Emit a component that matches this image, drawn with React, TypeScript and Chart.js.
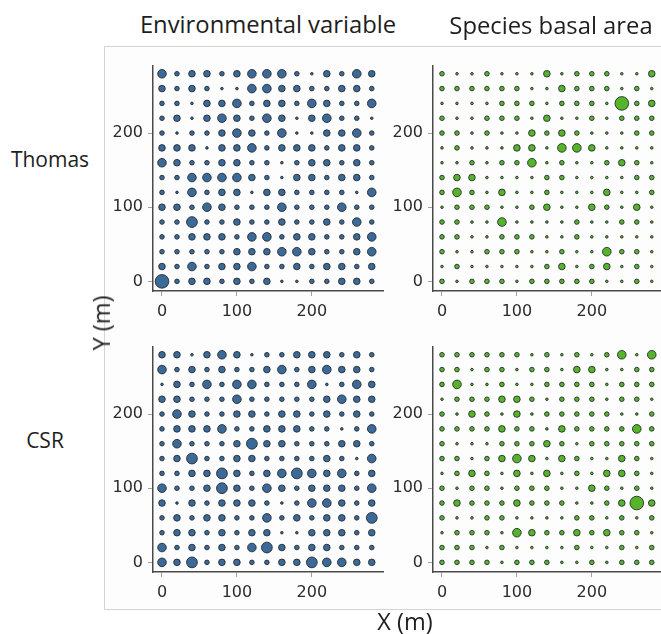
import React, { useEffect, useRef } from "react";
import { Chart, registerables } from "chart.js";

Chart.register(...registerables);

// Grid positions (m) along each axis
const gridCoords = [0, 20, 40, 60, 80, 100, 120, 140, 160, 180, 200, 220, 240, 260, 280];
const tickValues = [0, 100, 200];

// Relative magnitude classes per cell; rows listed from Y = 280 down to Y = 0
const envThomas = [
  [4, 2, 3, 3, 2, 3, 4, 4, 4, 2, 1, 3, 2, 4, 3],
  [3, 2, 3, 2, 1, 1, 4, 4, 3, 3, 2, 2, 3, 3, 2],
  [2, 2, 1, 3, 3, 4, 2, 3, 3, 2, 4, 3, 2, 2, 4],
  [2, 3, 1, 3, 4, 3, 2, 4, 3, 1, 3, 4, 2, 2, 1],
  [2, 1, 2, 2, 3, 4, 3, 2, 4, 1, 1, 3, 3, 4, 2],
  [3, 3, 3, 1, 3, 3, 4, 2, 3, 3, 3, 2, 3, 3, 2],
  [4, 3, 2, 2, 3, 3, 2, 2, 1, 2, 3, 3, 2, 3, 2],
  [2, 2, 4, 4, 4, 4, 3, 2, 1, 3, 3, 2, 3, 3, 2],
  [2, 1, 4, 2, 3, 3, 1, 3, 3, 2, 2, 2, 2, 1, 4],
  [3, 3, 2, 4, 3, 2, 2, 2, 4, 2, 2, 2, 4, 2, 2],
  [2, 2, 5, 2, 2, 3, 2, 2, 3, 2, 2, 3, 2, 4, 2],
  [2, 2, 3, 3, 3, 2, 4, 4, 2, 3, 3, 2, 2, 3, 4],
  [2, 2, 2, 2, 2, 3, 3, 3, 4, 4, 3, 2, 2, 3, 4],
  [3, 2, 4, 2, 3, 3, 4, 2, 2, 3, 2, 3, 3, 2, 3],
  [6, 2, 3, 3, 2, 3, 2, 3, 1, 1, 2, 2, 3, 3, 2],
];

const basalThomas = [
  [2, 1, 1, 2, 1, 1, 1, 3, 1, 2, 2, 2, 1, 1, 3],
  [2, 2, 2, 2, 2, 2, 1, 1, 3, 2, 2, 2, 1, 2, 1],
  [1, 1, 1, 1, 2, 2, 2, 1, 2, 2, 2, 1, 6, 2, 3],
  [2, 1, 1, 2, 2, 2, 1, 3, 1, 1, 2, 1, 2, 2, 2],
  [2, 2, 1, 2, 1, 1, 3, 2, 3, 2, 1, 1, 1, 2, 2],
  [1, 2, 1, 1, 1, 3, 3, 1, 4, 4, 3, 1, 1, 1, 1],
  [1, 1, 2, 1, 2, 2, 4, 1, 2, 1, 1, 2, 3, 2, 1],
  [2, 3, 3, 1, 1, 1, 1, 2, 2, 1, 1, 1, 1, 2, 2],
  [2, 4, 2, 1, 3, 1, 1, 2, 1, 1, 1, 3, 1, 1, 2],
  [1, 2, 2, 2, 1, 1, 2, 3, 1, 1, 3, 2, 1, 3, 1],
  [2, 2, 1, 1, 4, 1, 1, 1, 1, 2, 1, 1, 2, 2, 1],
  [2, 2, 1, 1, 2, 2, 2, 1, 1, 2, 1, 1, 1, 1, 1],
  [2, 1, 1, 2, 2, 2, 1, 1, 2, 1, 1, 4, 2, 2, 1],
  [1, 2, 1, 1, 1, 1, 1, 2, 3, 1, 2, 3, 1, 2, 1],
  [2, 1, 2, 2, 2, 1, 2, 2, 2, 2, 2, 1, 1, 2, 1],
];

const envCsr = [
  [3, 3, 1, 3, 4, 3, 1, 2, 2, 3, 3, 3, 2, 3, 2],
  [4, 2, 3, 2, 3, 2, 2, 3, 4, 2, 3, 4, 3, 3, 2],
  [1, 3, 2, 4, 2, 4, 4, 2, 2, 2, 4, 1, 2, 4, 3],
  [3, 3, 2, 2, 2, 4, 2, 2, 2, 2, 2, 3, 4, 3, 3],
  [2, 4, 3, 2, 2, 3, 3, 2, 3, 3, 2, 3, 2, 3, 2],
  [2, 3, 3, 3, 4, 2, 2, 3, 3, 3, 2, 2, 1, 2, 4],
  [2, 4, 2, 2, 2, 3, 5, 3, 3, 2, 2, 2, 3, 3, 2],
  [2, 3, 5, 2, 2, 3, 3, 2, 2, 2, 2, 3, 2, 1, 4],
  [2, 2, 3, 3, 5, 3, 2, 3, 4, 5, 4, 3, 4, 2, 3],
  [4, 2, 2, 3, 5, 3, 2, 4, 3, 2, 3, 3, 3, 2, 4],
  [3, 1, 3, 2, 3, 3, 3, 2, 1, 2, 4, 4, 3, 2, 3],
  [2, 3, 2, 3, 3, 2, 2, 4, 2, 3, 2, 3, 3, 2, 5],
  [2, 3, 3, 2, 3, 2, 3, 3, 1, 1, 3, 3, 3, 2, 3],
  [4, 2, 3, 2, 3, 2, 4, 5, 3, 2, 3, 3, 2, 2, 2],
  [4, 3, 5, 2, 3, 3, 2, 2, 3, 3, 5, 4, 4, 3, 3],
];

const basalCsr = [
  [2, 2, 2, 2, 2, 2, 1, 2, 1, 2, 1, 2, 4, 1, 4],
  [2, 2, 1, 2, 2, 1, 2, 2, 1, 3, 3, 1, 1, 2, 2],
  [2, 4, 1, 1, 2, 1, 1, 2, 2, 2, 2, 1, 2, 2, 2],
  [1, 2, 2, 2, 3, 3, 2, 1, 2, 2, 2, 1, 2, 2, 1],
  [2, 1, 3, 2, 1, 3, 1, 2, 2, 2, 2, 2, 1, 1, 2],
  [2, 2, 2, 2, 3, 2, 2, 1, 3, 2, 2, 2, 2, 4, 2],
  [2, 1, 1, 1, 2, 2, 2, 3, 2, 1, 2, 2, 2, 2, 2],
  [2, 2, 1, 2, 3, 4, 3, 1, 3, 2, 1, 1, 3, 2, 1],
  [1, 2, 3, 2, 1, 3, 1, 3, 1, 2, 1, 3, 3, 2, 1],
  [2, 1, 2, 2, 1, 2, 2, 2, 1, 1, 3, 2, 1, 2, 1],
  [2, 3, 2, 2, 2, 3, 2, 2, 2, 1, 1, 2, 3, 6, 3],
  [2, 1, 1, 2, 2, 1, 1, 1, 1, 2, 2, 1, 2, 1, 2],
  [1, 2, 2, 2, 1, 4, 3, 2, 2, 3, 2, 3, 2, 2, 1],
  [2, 2, 2, 1, 2, 1, 1, 1, 1, 2, 1, 1, 2, 1, 2],
  [2, 2, 2, 2, 1, 2, 2, 2, 1, 1, 2, 1, 2, 2, 2],
];

// Bubble radius (px) for each magnitude class
const radiusByClass = [0, 1.3, 2.3, 3.3, 4.3, 5.4, 6.8];

const BLUE = "#3b6998";
const GREEN = "#56b428";
const OUTLINE = "#262b30";
const AXIS = "#4a4a4a";
const TEXT = "#2b2b2b";

// Plot-area geometry shared by all four panels
const AREA_W = 230;
const AREA_H = 228;
const Y_AXIS_W = 55;
const X_AXIS_H = 40;
const PAD_TOP = 12;
const PAD_RIGHT = 10;

function toPoints(grid: number[][]) {
  const pts: { x: number; y: number; r: number }[] = [];
  grid.forEach((row, ri) => {
    row.forEach((v, ci) => {
      pts.push({ x: gridCoords[ci], y: gridCoords[14 - ri], r: radiusByClass[v] });
    });
  });
  return pts;
}

function Panel({ areaLeft, areaTop, grid, fill }: { areaLeft: number; areaTop: number; grid: number[][]; fill: string }) {
  const ref = useRef<HTMLCanvasElement | null>(null);
  useEffect(() => {
    if (!ref.current) return;
    const tickFont = { family: "'DejaVu Sans', Verdana, sans-serif", size: 16 };
    const setTicks = (scale: any) => {
      scale.ticks = tickValues.map((v) => ({ value: v }));
    };
    const chart = new Chart(ref.current, {
      type: "bubble",
      data: {
        datasets: [
          {
            data: toPoints(grid),
            backgroundColor: fill,
            borderColor: OUTLINE,
            borderWidth: 0.9,
            clip: false,
          } as any,
        ],
      },
      options: {
        animation: false,
        responsive: false,
        events: [],
        layout: { padding: { top: PAD_TOP, right: PAD_RIGHT, left: 0, bottom: 0 } },
        plugins: { legend: { display: false }, tooltip: { enabled: false } },
        scales: {
          x: {
            type: "linear",
            min: -12,
            max: 295,
            afterBuildTicks: setTicks,
            afterFit: (s: any) => {
              s.height = X_AXIS_H;
            },
            grid: { drawOnChartArea: false, drawTicks: true, tickLength: 5, color: "#a0a0a0" },
            border: { display: true, color: AXIS, width: 1.5 },
            ticks: { font: tickFont, color: TEXT, padding: 6, maxRotation: 0 },
          },
          y: {
            type: "linear",
            min: -13,
            max: 291,
            afterBuildTicks: setTicks,
            afterFit: (s: any) => {
              s.width = Y_AXIS_W;
            },
            grid: { drawOnChartArea: false, drawTicks: true, tickLength: 5, color: "#a0a0a0" },
            border: { display: true, color: AXIS, width: 1.5 },
            ticks: { font: tickFont, color: TEXT, padding: 5 },
          },
        },
      },
    });
    return () => chart.destroy();
  }, [grid, fill]);

  const w = Y_AXIS_W + AREA_W + PAD_RIGHT;
  const h = PAD_TOP + AREA_H + X_AXIS_H;
  return (
    <canvas
      ref={ref}
      width={w}
      height={h}
      style={{ position: "absolute", left: areaLeft - Y_AXIS_W, top: areaTop - PAD_TOP, width: w, height: h }}
    />
  );
}

const labelFont = "'Open Sans', 'DejaVu Sans', sans-serif";

export default function App() {
  const text = (s: string, left: number, top: number, size: number, extra: React.CSSProperties = {}) => (
    <div
      style={{
        position: "absolute",
        left,
        top,
        transform: "translate(-50%, -50%)",
        whiteSpace: "nowrap",
        fontFamily: labelFont,
        fontSize: size,
        color: "#1e1e1e",
        lineHeight: 1.2,
        ...extra,
      }}
    >
      {s}
    </div>
  );
  return (
    <div
      style={{
        position: "absolute",
        left: 0,
        top: 0,
        width: 661,
        height: 634,
        overflow: "hidden",
        background: "#ffffff",
      }}
    >
      <div
        style={{
          position: "absolute",
          left: 104,
          top: 46,
          width: 600,
          height: 564,
          border: "1px solid #d4d4d4",
          background: "#fdfdfd",
          boxSizing: "border-box",
        }}
      />
      <Panel areaLeft={153} areaTop={63} grid={envThomas} fill={BLUE} />
      <Panel areaLeft={433} areaTop={63} grid={basalThomas} fill={GREEN} />
      <Panel areaLeft={153} areaTop={344} grid={envCsr} fill={BLUE} />
      <Panel areaLeft={433} areaTop={344} grid={basalCsr} fill={GREEN} />
      {text("Environmental variable", 268, 24, 23.8)}
      {text("Species basal area", 551, 25, 23.8)}
      {text("Thomas", 50, 160, 21)}
      {text("CSR", 45, 441, 21)}
      {text("Y (m)", 101, 323, 23.5, { transform: "translate(-50%, -50%) rotate(-90deg)" })}
      {text("X (m)", 405, 621, 23.5)}
    </div>
  );
}
